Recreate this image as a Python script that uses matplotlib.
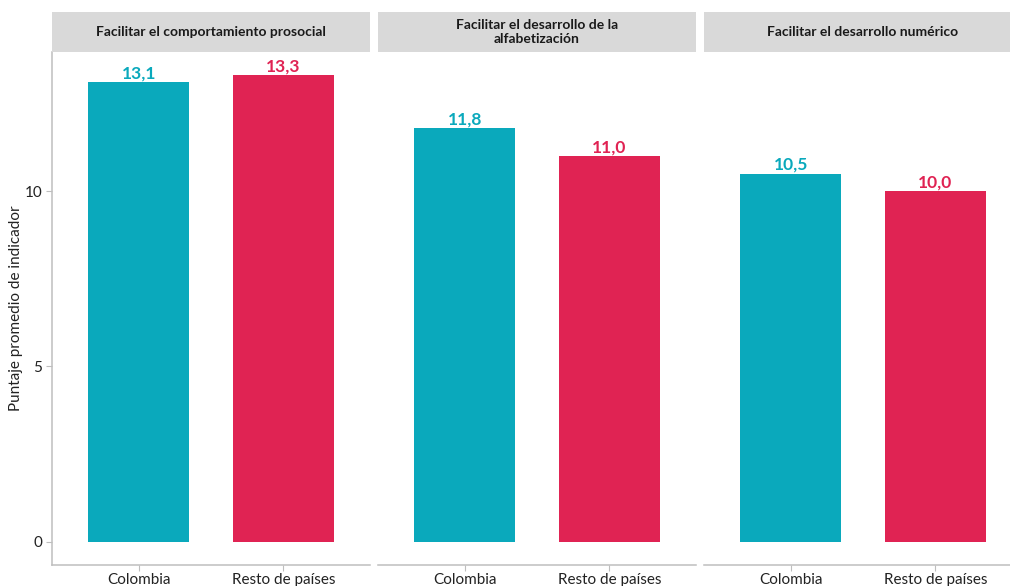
import matplotlib.pyplot as plt

plt.rcParams['font.family'] = ['Lato', 'DejaVu Sans']

# puntaje promedio por dimension
paneles = ["Facilitar el comportamiento prosocial",
           "Facilitar el desarrollo de la\nalfabetización",
           "Facilitar el desarrollo numérico"]
grupos = ["Colombia", "Resto de países"]
colombia = [13.1, 11.8, 10.5]
resto = [13.3, 11.0, 10.0]
colores = ["#0AA9BC", "#E02353"]
yticks = [0, 5, 10]

W, H = 1010, 586
fig = plt.figure(figsize=(W / 100, H / 100), dpi=100)

gris_eje = "#BEBEBE"
ymax = max(colombia + resto)
ylim = (-0.05 * ymax, 1.05 * ymax)

lefts = [52, 378, 704]
ancho = 318
y_top, y_bot = 52, 565
strip_top = 12

for i, titulo in enumerate(paneles):
    x0 = lefts[i]
    ax = fig.add_axes([x0 / W, (H - y_bot) / H, ancho / W, (y_bot - y_top) / H])
    vals = [colombia[i], resto[i]]
    pos = [1, 2]
    ax.bar(pos, vals, width=0.7, color=colores)
    for p, v, c in zip(pos, vals, colores):
        ax.text(p, v + 0.02, f"{v:.1f}".replace(".", ","), ha="center", va="bottom",
                color=c, fontsize=12.5, fontweight="bold")
    ax.set_xlim(0.4, 2.6)
    ax.set_ylim(*ylim)
    ax.set_xticks(pos)
    ax.set_xticklabels(grupos, fontsize=11, color="#222222")
    for s in ["top", "right"]:
        ax.spines[s].set_visible(False)
    ax.spines["bottom"].set_color(gris_eje)
    ax.spines["bottom"].set_linewidth(1.1)
    ax.tick_params(axis="x", length=4, color=gris_eje, pad=2)
    if i == 0:
        ax.spines["left"].set_color(gris_eje)
        ax.spines["left"].set_linewidth(1.1)
        ax.set_yticks(yticks)
        ax.set_yticklabels([str(t) for t in yticks], fontsize=11, color="#222222")
        ax.tick_params(axis="y", length=4, color=gris_eje, pad=3)
    else:
        ax.spines["left"].set_visible(False)
        ax.set_yticks([])

    # tira con el titulo del panel
    sax = fig.add_axes([x0 / W, (H - y_top) / H, ancho / W, (y_top - strip_top) / H])
    sax.set_facecolor("#D9D9D9")
    sax.set_xticks([])
    sax.set_yticks([])
    for s in sax.spines.values():
        s.set_visible(False)
    sax.text(0.5, 0.5, titulo, ha="center", va="center", fontsize=10,
             fontweight="bold", color="#1A1A1A", linespacing=1.25,
             transform=sax.transAxes)

fig.text(16 / W, 1 - ((y_top + y_bot) / 2) / H, "Puntaje promedio de indicador",
         rotation=90, ha="center", va="center", fontsize=11, color="#222222")

fig.savefig("out.png", dpi=100)
